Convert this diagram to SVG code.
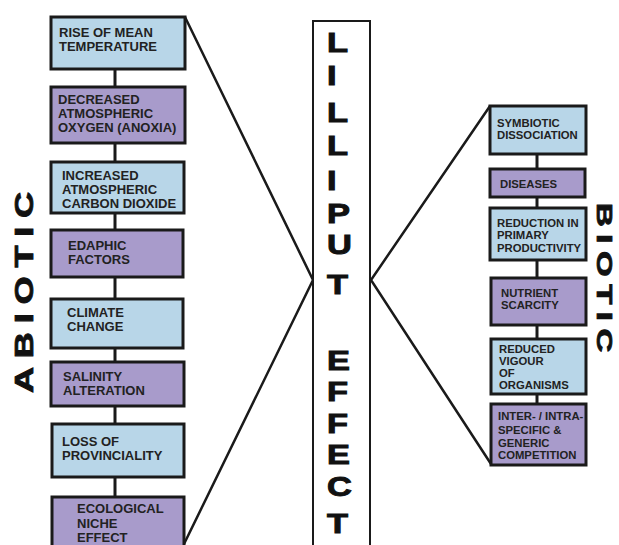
<svg xmlns="http://www.w3.org/2000/svg" width="619" height="545" viewBox="0 0 619 545">
<style>
.box{stroke:#1a1a1a;stroke-width:3}
.blue{fill:#b8d6e8}
.purple{fill:#a89bcb}
.t{font-family:"Liberation Sans",Arial,sans-serif;font-weight:bold;font-size:13px;fill:#222}
.tr{font-family:"Liberation Sans",Arial,sans-serif;font-weight:bold;font-size:11.3px;fill:#222}
.big{font-family:"Liberation Sans",Arial,sans-serif;font-weight:bold;font-size:28px;fill:#111;stroke:#111;stroke-width:1}
.side{font-family:"Liberation Sans",Arial,sans-serif;font-weight:bold;fill:#111;stroke:#111;stroke-width:0.8}
.conn{stroke:#1a1a1a;stroke-width:3;fill:none}
.diag{stroke:#1a1a1a;stroke-width:2.5;fill:none}
</style>
<rect width="619" height="545" fill="#ffffff"/>
<g id="connectors">
<line class="conn" x1="115" y1="69" x2="115" y2="497"/>
<line class="conn" x1="537" y1="154" x2="537" y2="404"/>
<polyline class="diag" points="185,17 313,280 184,544"/>
<polyline class="diag" points="490,106 371,280 491,464"/>
</g>
<g id="center">
<rect x="313" y="21" width="57" height="530" fill="#fff" stroke="#1a1a1a" stroke-width="2"/>
<g transform="translate(327,0) scale(1.23,1) translate(-327,0)">
<text class="big"><tspan x="327" y="52">L</tspan><tspan x="327" y="85">I</tspan><tspan x="327" y="122">L</tspan><tspan x="327" y="155">L</tspan><tspan x="327" y="190">I</tspan><tspan x="327" y="223">P</tspan><tspan x="327" y="254.5">U</tspan><tspan x="327" y="294">T</tspan><tspan x="327" y="370">E</tspan><tspan x="327" y="401.5">F</tspan><tspan x="327" y="433">F</tspan><tspan x="327" y="464.5">E</tspan><tspan x="327" y="496">C</tspan><tspan x="327" y="533">T</tspan></text>
</g>
</g>
<g id="abiotic-label">
<text class="side" font-size="25" letter-spacing="6" transform="translate(33,393) rotate(-90) scale(1.45,1)">ABIOTIC</text>
</g>
<g id="biotic-label">
<text class="side" font-size="22" letter-spacing="5" transform="translate(597,203) rotate(90) scale(1.5,1)">BIOTIC</text>
</g>
<g id="a1"><rect class="box blue" x="51" y="17" width="134" height="52"/>
<text class="t" x="59" y="37">RISE OF MEAN</text><text class="t" x="59" y="51">TEMPERATURE</text></g>
<g id="a2"><rect class="box purple" x="51" y="87" width="134" height="56"/>
<text class="t" x="58" y="104">DECREASED</text><text class="t" x="58" y="118">ATMOSPHERIC</text><text class="t" x="58" y="132">OXYGEN (ANOXIA)</text></g>
<g id="a3"><rect class="box blue" x="51" y="162" width="133" height="51"/>
<text class="t" x="62" y="180">INCREASED</text><text class="t" x="62" y="194">ATMOSPHERIC</text><text class="t" x="62" y="208">CARBON DIOXIDE</text></g>
<g id="a4"><rect class="box purple" x="51" y="230" width="132" height="47"/>
<text class="t" x="68" y="250">EDAPHIC</text><text class="t" x="68" y="264">FACTORS</text></g>
<g id="a5"><rect class="box blue" x="51" y="299" width="132" height="49"/>
<text class="t" x="67" y="317">CLIMATE</text><text class="t" x="67" y="331">CHANGE</text></g>
<g id="a6"><rect class="box purple" x="51" y="362" width="133" height="44"/>
<text class="t" x="63" y="381">SALINITY</text><text class="t" x="63" y="395">ALTERATION</text></g>
<g id="a7"><rect class="box blue" x="52" y="424" width="132" height="53"/>
<text class="t" x="62" y="446">LOSS OF</text><text class="t" x="62" y="460">PROVINCIALITY</text></g>
<g id="a8"><rect class="box purple" x="52" y="497" width="132" height="60"/>
<text class="t" x="77" y="513">ECOLOGICAL</text><text class="t" x="77" y="528">NICHE</text><text class="t" x="77" y="542">EFFECT</text></g>
<g id="b1"><rect class="box blue" x="490" y="106" width="96" height="48"/>
<text class="tr" x="497" y="127">SYMBIOTIC</text><text class="tr" x="497" y="139">DISSOCIATION</text></g>
<g id="b2"><rect class="box purple" x="490" y="169" width="95" height="28"/>
<text class="tr" x="500" y="188">DISEASES</text></g>
<g id="b3"><rect class="box blue" x="490" y="208" width="96" height="52"/>
<text class="tr" x="497" y="227">REDUCTION IN</text><text class="tr" x="497" y="239">PRIMARY</text><text class="tr" x="497" y="252">PRODUCTIVITY</text></g>
<g id="b4"><rect class="box purple" x="491" y="278" width="95" height="47"/>
<text class="tr" x="501" y="297">NUTRIENT</text><text class="tr" x="501" y="309">SCARCITY</text></g>
<g id="b5"><rect class="box blue" x="491" y="339" width="95" height="55"/>
<text class="tr" x="499" y="353">REDUCED</text><text class="tr" x="499" y="365">VIGOUR</text><text class="tr" x="499" y="377">OF</text><text class="tr" x="499" y="389">ORGANISMS</text></g>
<g id="b6"><rect class="box purple" x="491" y="404" width="95" height="61"/>
<text class="tr" x="498" y="420">INTER- / INTRA-</text><text class="tr" x="498" y="434">SPECIFIC &amp;</text><text class="tr" x="498" y="447">GENERIC</text><text class="tr" x="498" y="459">COMPETITION</text></g>
</svg>
